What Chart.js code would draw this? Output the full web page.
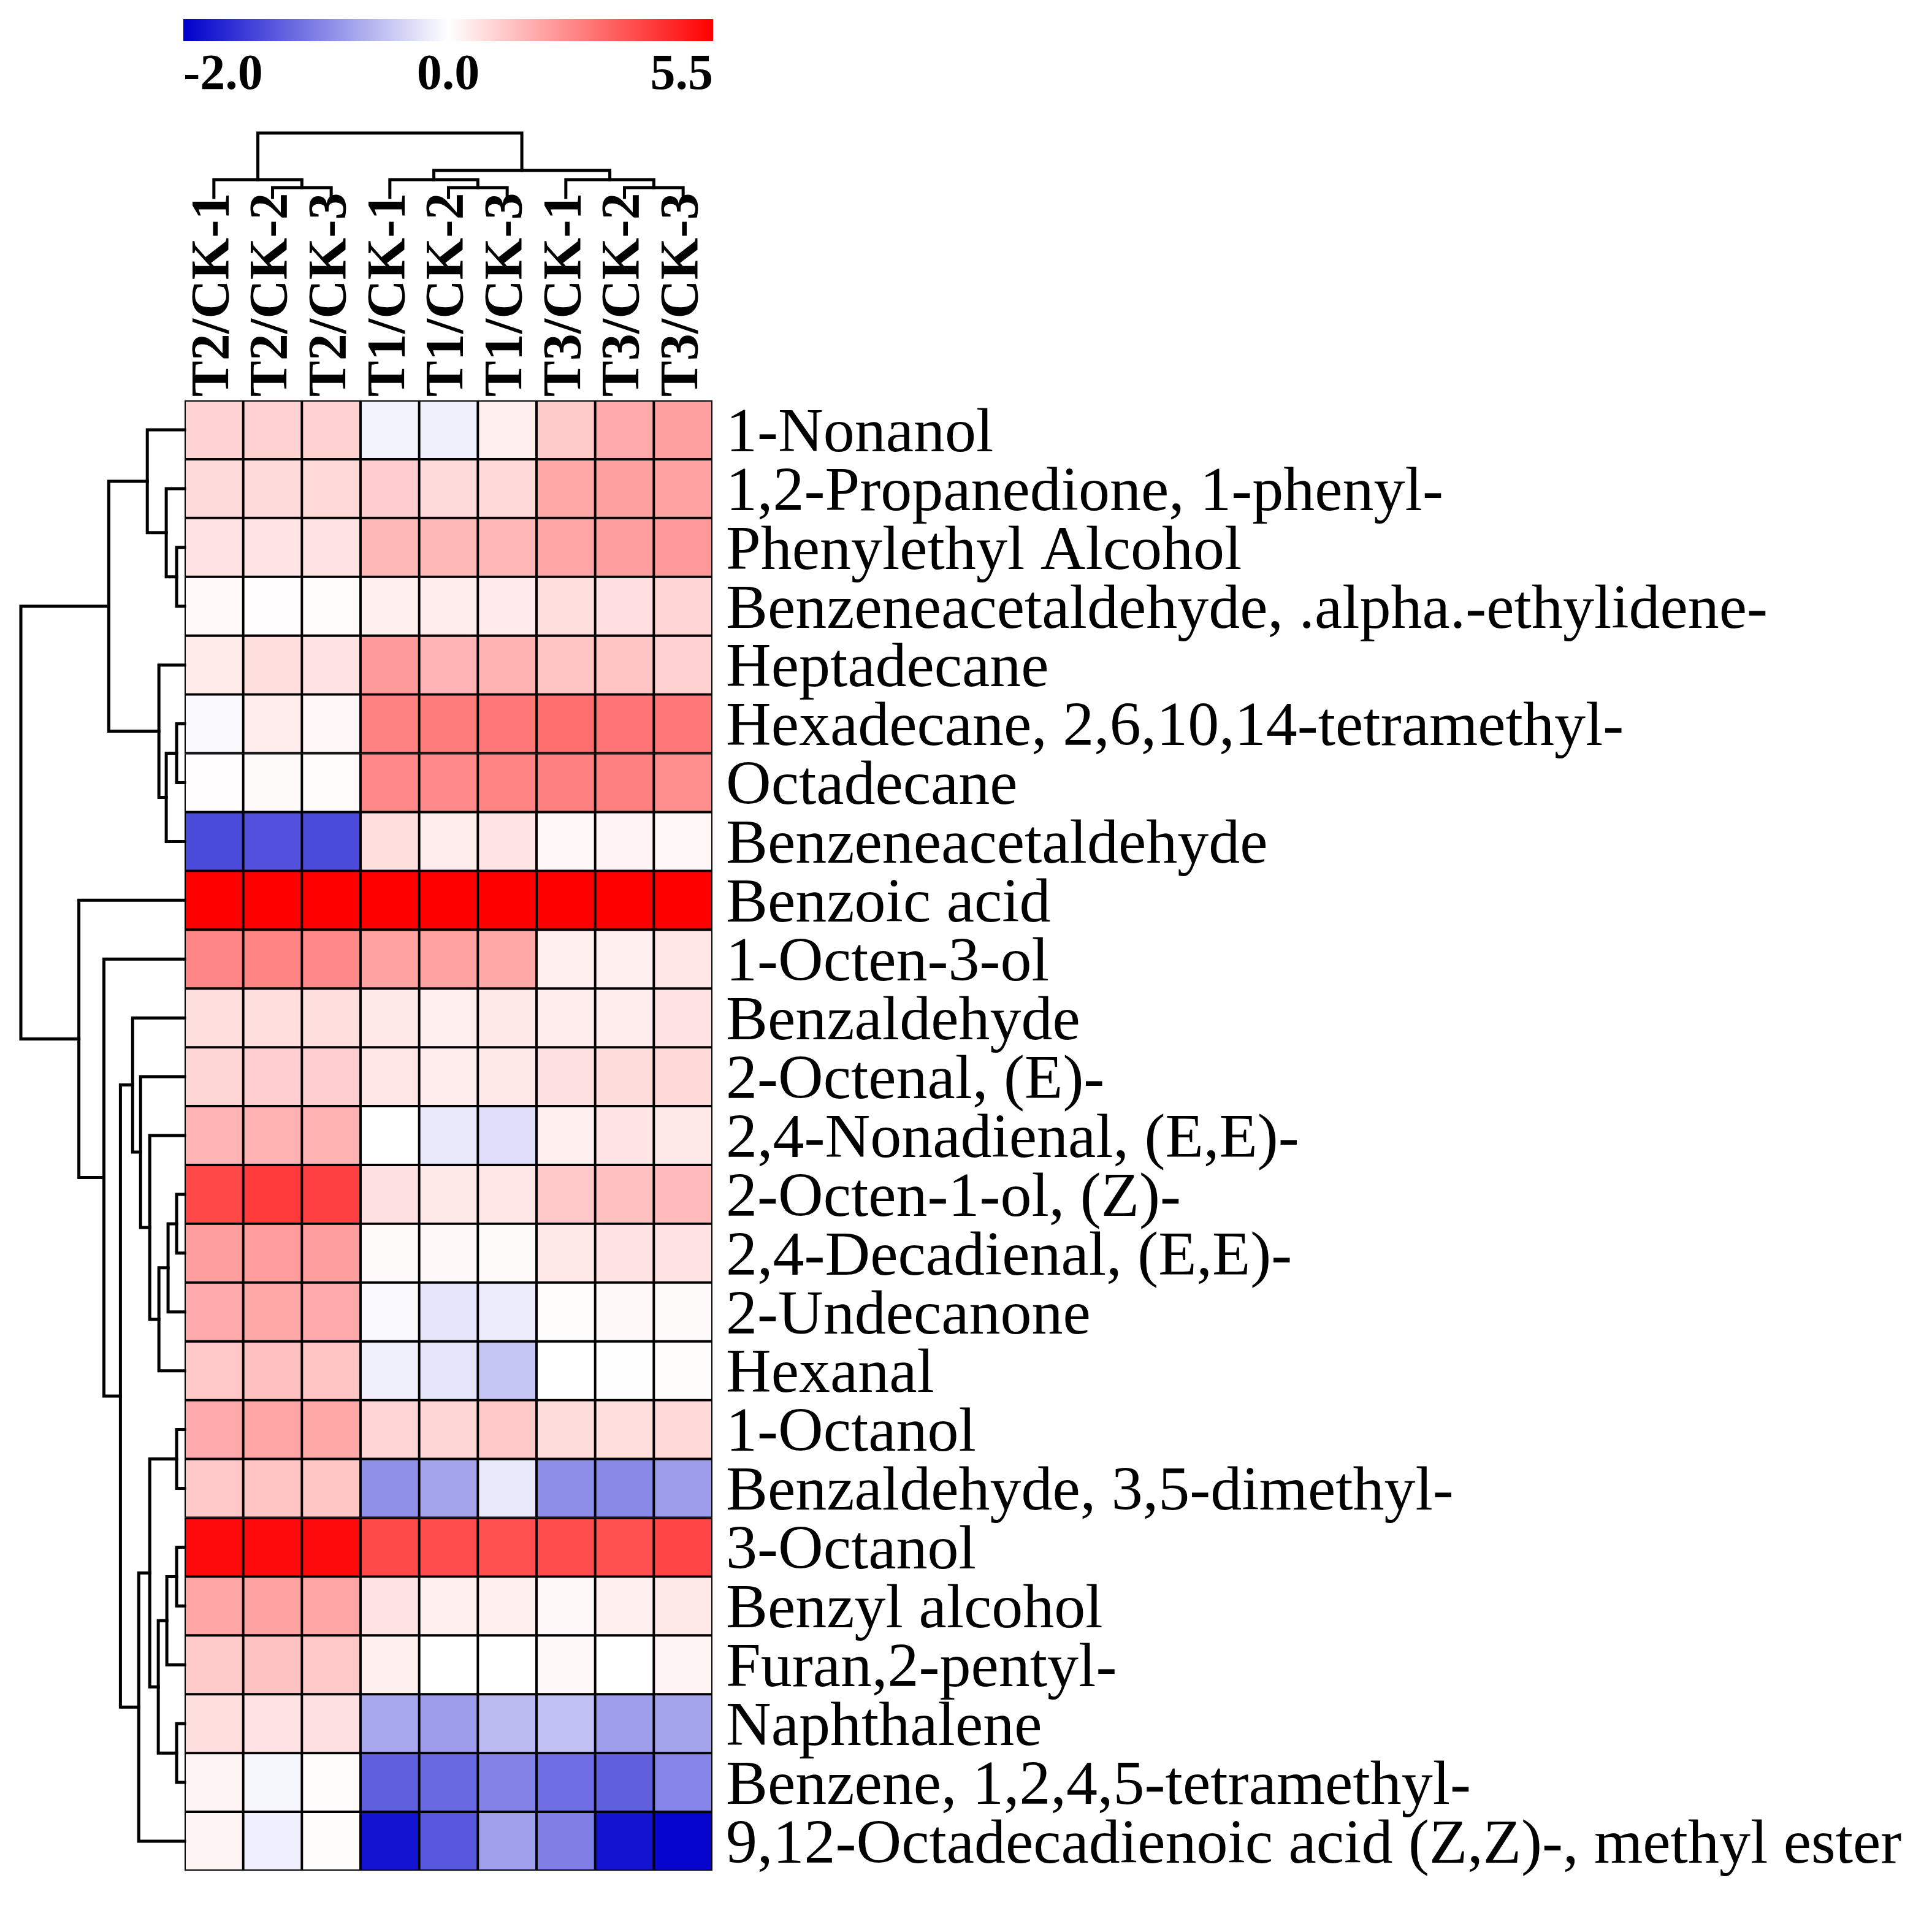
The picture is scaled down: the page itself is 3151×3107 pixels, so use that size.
<!DOCTYPE html>
<html>
<head>
<meta charset="utf-8">
<title>Heatmap</title>
<script src="https://cdn.jsdelivr.net/npm/chart.js@4.4.1/dist/chart.umd.min.js"></script>
<style>
  html, body { margin: 0; padding: 0; background: #fff; }
  #wrap { position: relative; width: 3151px; height: 3107px; background: #fff; }
  #wrap canvas { position: absolute; left: 0; top: 0; }
</style>
</head>
<body>
<div id="wrap">
  <canvas id="heatCanvas" width="3151" height="3107"></canvas>
  <canvas id="rowTreeCanvas" width="3151" height="3107"></canvas>
  <canvas id="colTreeCanvas" width="3151" height="3107"></canvas>
  <canvas id="barCanvas" width="3151" height="200"></canvas>
</div>
<script>
/* ── Data ─────────────────────────────────────── */
const compounds = [
  '1-Nonanol', '1,2-Propanedione, 1-phenyl-', 'Phenylethyl Alcohol',
  'Benzeneacetaldehyde, .alpha.-ethylidene-', 'Heptadecane',
  'Hexadecane, 2,6,10,14-tetramethyl-', 'Octadecane', 'Benzeneacetaldehyde',
  'Benzoic acid', '1-Octen-3-ol', 'Benzaldehyde', '2-Octenal, (E)-',
  '2,4-Nonadienal, (E,E)-', '2-Octen-1-ol, (Z)-', '2,4-Decadienal, (E,E)-',
  '2-Undecanone', 'Hexanal', '1-Octanol', 'Benzaldehyde, 3,5-dimethyl-',
  '3-Octanol', 'Benzyl alcohol', 'Furan,2-pentyl-', 'Naphthalene',
  'Benzene, 1,2,4,5-tetramethyl-', '9,12-Octadecadienoic acid (Z,Z)-, methyl ester'
];
const samples = ['T2/CK-1', 'T2/CK-2', 'T2/CK-3', 'T1/CK-1', 'T1/CK-2', 'T1/CK-3', 'T3/CK-1', 'T3/CK-2', 'T3/CK-3'];

// one array per sample column, same order as compounds
const t2ck1 = [0.95, 0.80, 0.60, 0.13, 0.45, -0.05, 0.04, -1.42, 5.5, 2.61, 0.71, 0.88, 1.60, 3.95, 2.09, 1.83, 1.19, 1.83, 1.19, 5.28, 1.94, 1.14, 0.71, 0.24, 0.24];
const t2ck2 = [0.99, 0.80, 0.56, 0.04, 0.71, 0.39, 0.11, -1.37, 5.5, 2.65, 0.71, 1.04, 1.66, 4.25, 2.14, 1.88, 1.36, 1.94, 1.27, 5.28, 2.00, 1.31, 0.63, -0.07, -0.13];
const t2ck3 = [0.99, 0.84, 0.60, 0.09, 0.63, 0.19, 0.09, -1.42, 5.5, 2.57, 0.71, 1.04, 1.66, 4.12, 2.09, 1.83, 1.27, 1.88, 1.23, 5.28, 1.94, 1.19, 0.67, 0.09, 0.06];
const t1ck1 = [-0.10, 1.08, 1.53, 0.32, 2.18, 2.70, 2.57, 0.71, 5.5, 2.00, 0.50, 0.54, 0.00, 0.67, 0.11, -0.04, -0.12, 0.93, -0.87, 3.90, 0.63, 0.32, -0.68, -1.25, -1.84];
const t1ck2 = [-0.12, 0.80, 1.53, 0.39, 1.60, 2.83, 2.52, 0.41, 5.5, 2.00, 0.37, 0.39, -0.18, 0.50, 0.15, -0.21, -0.21, 0.88, -0.71, 3.84, 0.32, 0.00, -0.78, -1.18, -1.31];
const t1ck3 = [0.37, 0.84, 1.57, 0.43, 1.66, 2.91, 2.63, 0.56, 5.5, 1.88, 0.50, 0.50, -0.26, 0.54, 0.11, -0.16, -0.45, 1.19, -0.18, 3.77, 0.32, 0.00, -0.53, -0.98, -0.75];
const t3ck1 = [1.14, 1.88, 1.94, 0.71, 1.25, 3.13, 2.74, 0.19, 5.5, 0.32, 0.41, 0.67, 0.32, 1.19, 0.50, 0.06, 0.00, 0.75, -0.89, 3.86, 0.15, 0.15, -0.49, -1.14, -1.01];
const t3ck2 = [1.83, 2.05, 2.09, 0.69, 1.27, 2.98, 2.74, 0.26, 5.5, 0.32, 0.39, 0.75, 0.56, 1.36, 0.63, 0.15, 0.02, 0.71, -0.93, 3.77, 0.32, 0.00, -0.76, -1.25, -1.84];
const t3ck3 = [2.05, 2.00, 2.22, 0.91, 1.01, 2.91, 2.44, 0.19, 5.5, 0.54, 0.63, 0.84, 0.50, 1.47, 0.63, 0.11, 0.06, 0.84, -0.78, 4.01, 0.50, 0.24, -0.71, -0.96, -1.96];
const sampleValues = [t2ck1, t2ck2, t2ck3, t1ck1, t1ck2, t1ck3, t3ck1, t3ck2, t3ck3];

// colour scale ends and tick labels
const scaleMin = -2.0;
const scaleMax = 5.5;
const scaleLabels = ['-2.0', '0.0', '5.5'];

// row tree: [child a, child b, merge height]; ids >= 25 are earlier merges
const rowMerges = [
  [2, 3, 13], [1, 25, 30], [0, 26, 61],
  [5, 6, 13], [7, 28, 30], [4, 29, 42], [27, 30, 124],
  [13, 14, 13], [32, 15, 27], [33, 16, 42], [12, 34, 57], [11, 35, 72], [10, 36, 85],
  [17, 18, 13], [19, 20, 13], [39, 21, 29], [22, 23, 13], [40, 41, 43], [38, 42, 57], [43, 24, 75],
  [37, 44, 105], [9, 45, 132], [8, 46, 173], [31, 47, 268]
];
// column tree, ids >= 9 are earlier merges
const colMerges = [
  [1, 2, 16], [0, 9, 29], [4, 5, 16], [3, 11, 29], [7, 8, 16], [6, 13, 29], [12, 14, 44], [10, 15, 105]
];

/* ── Helpers ──────────────────────────────────── */
Chart.defaults.font.family = "'Liberation Serif', 'Times New Roman', serif";
Chart.defaults.color = '#000';

const BLUE = [0, 0, 204];
function valueColor(v) {
  if (v >= 0) {
    const t = Math.min(v / scaleMax, 1);
    const g = Math.round(255 * (1 - t));
    return `rgb(255,${g},${g})`;
  }
  const t = Math.min(v / scaleMin, 1);
  const c = Math.round(255 * (1 - t));
  const b = Math.round(255 - t * (255 - BLUE[2]));
  return `rgb(${c},${c},${b})`;
}

// turn a merge list into U-shaped links (pos along leaves, height)
function treeLinks(merges, leafPos) {
  const pos = leafPos.slice();
  const hgt = leafPos.map(() => 0);
  const links = [];
  merges.forEach(([a, b, h]) => {
    links.push([[pos[a], hgt[a]], [pos[a], h], [pos[b], h], [pos[b], hgt[b]]]);
    pos.push((pos[a] + pos[b]) / 2);
    hgt.push(h);
  });
  return links;
}

function lineSet(points) {
  return { data: points, showLine: true, borderColor: '#000', borderWidth: 5,
           pointRadius: 0, tension: 0, borderJoinStyle: 'miter', borderCapStyle: 'square', clip: false };
}

// keep axes from asking for extra room around the plot
function noPad(s) { s.paddingTop = 0; s.paddingBottom = 0; s.paddingLeft = 0; s.paddingRight = 0; }

const W = 3151, H = 3107;
const heat = { left: 301, right: 1162, top: 653, bottom: 3051 };
const colFont = 88;

/* ── Heatmap (stacked horizontal bars) ────────── */
new Chart(document.getElementById('heatCanvas'), {
  type: 'bar',
  data: {
    labels: compounds,
    datasets: sampleValues.map((vals, i) => ({
      label: samples[i],
      data: vals.map(() => 1),
      backgroundColor: vals.map(valueColor),
      borderColor: '#000',
      borderWidth: 2.3,
      borderSkipped: false,
      barPercentage: 1,
      categoryPercentage: 1
    }))
  },
  options: {
    indexAxis: 'y',
    responsive: false,
    animation: false,
    events: [],
    layout: { padding: { left: heat.left, top: 0, right: 0, bottom: H - heat.bottom } },
    plugins: { legend: { display: false }, tooltip: { enabled: false } },
    scales: {
      x: { stacked: true, min: 0, max: samples.length, display: false },
      xTop: {
        type: 'category', labels: samples, position: 'top', offset: true,
        grid: { display: false, drawTicks: false }, border: { display: false },
        ticks: { autoSkip: false, minRotation: 90, maxRotation: 90, padding: 6,
                 labelOffset: colFont * 1.2, font: { size: colFont, weight: 'bold' } },
        afterFit: s => { s.height = heat.top; noPad(s); }
      },
      y: {
        stacked: true, position: 'right', offset: true,
        grid: { display: false, drawTicks: false }, border: { display: false },
        ticks: { autoSkip: false, padding: 22, labelOffset: 8, font: { size: 102 } },
        afterFit: s => { s.width = W - heat.right; noPad(s); }
      }
    }
  }
});

/* ── Row dendrogram ───────────────────────────── */
const rowLinks = treeLinks(rowMerges, compounds.map((_, i) => i));
new Chart(document.getElementById('rowTreeCanvas'), {
  type: 'scatter',
  data: { datasets: rowLinks.map(l => lineSet(l.map(([p, h]) => ({ x: h, y: p })))) },
  options: {
    responsive: false, animation: false, events: [],
    layout: { padding: { left: 32, right: W - heat.left, top: heat.top, bottom: H - heat.bottom } },
    plugins: { legend: { display: false }, tooltip: { enabled: false } },
    scales: {
      x: { min: 0, max: 270, reverse: true, display: false },
      y: { min: -0.5, max: compounds.length - 0.5, reverse: true, display: false }
    }
  }
});

/* ── Column dendrogram ────────────────────────── */
const colLinks = treeLinks(colMerges, samples.map((_, i) => i + 0.5));
new Chart(document.getElementById('colTreeCanvas'), {
  type: 'scatter',
  data: { datasets: colLinks.map(l => lineSet(l.map(([p, h]) => ({ x: p, y: h })))) },
  options: {
    responsive: false, animation: false, events: [],
    layout: { padding: { left: heat.left, right: W - heat.right, top: 212, bottom: H - 322 } },
    plugins: { legend: { display: false }, tooltip: { enabled: false } },
    scales: {
      x: { min: 0, max: samples.length, display: false },
      y: { min: 0, max: 110, display: false }
    }
  }
});

/* ── Colour bar ───────────────────────────────── */
new Chart(document.getElementById('barCanvas'), {
  type: 'bar',
  data: {
    labels: [''],
    datasets: [{
      data: [1],
      barPercentage: 1, categoryPercentage: 1, borderWidth: 0,
      backgroundColor: ctx => {
        const area = ctx.chart.chartArea;
        if (!area) return '#fff';
        const g = ctx.chart.ctx.createLinearGradient(area.left, 0, area.right, 0);
        g.addColorStop(0, valueColor(scaleMin));
        g.addColorStop(0.5, '#fff');
        g.addColorStop(1, valueColor(scaleMax));
        return g;
      }
    }]
  },
  options: {
    indexAxis: 'y', responsive: false, animation: false, events: [],
    layout: { padding: { left: 299, right: W - 1163, top: 31, bottom: 0 } },
    plugins: { legend: { display: false }, tooltip: { enabled: false } },
    scales: {
      y: { display: false },
      x: {
        min: 0, max: 1,
        grid: { display: false, drawTicks: false }, border: { display: false },
        afterBuildTicks: s => { s.ticks = scaleLabels.map((_, i) => ({ value: i / (scaleLabels.length - 1) })); },
        ticks: { align: 'inner', padding: 8, maxRotation: 0, font: { size: 82, weight: 'bold' },
                 callback: (v, i) => scaleLabels[i] },
        afterFit: s => { s.height = 200 - 67; noPad(s); }
      }
    }
  }
});
</script>
</body>
</html>
